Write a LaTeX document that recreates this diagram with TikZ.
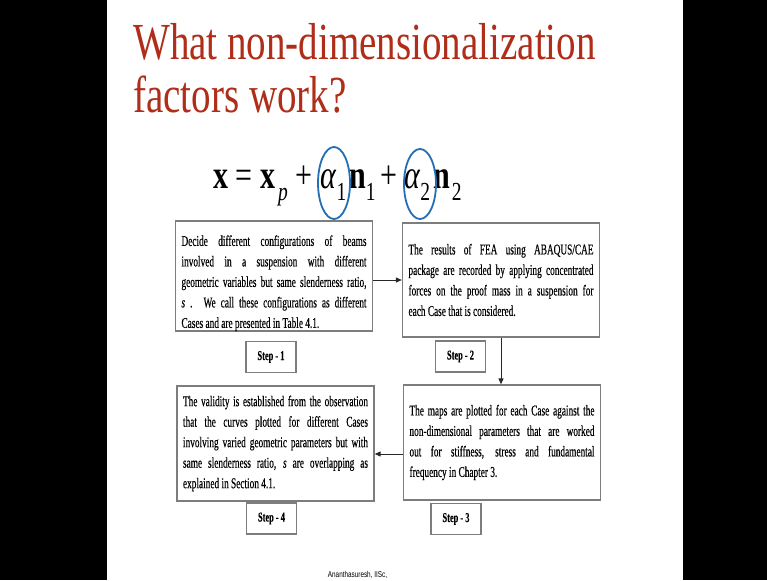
\documentclass[tikz,border=0pt]{standalone}
\usepackage{fontspec}
\setmainfont{Liberation Serif}
\newfontfamily\titlefont[FakeStretch=0.75]{Liberation Serif}
\newfontfamily\boxfont[FakeStretch=0.62,FakeBold=0.3]{Liberation Serif}
\newfontfamily\notefont[FakeStretch=0.75]{Liberation Sans}
\newcommand\eqsub[1]{\raisebox{-0.3em}{\fontsize{26}{26}\selectfont #1}}
\definecolor{slidered}{RGB}{175,45,25}
\definecolor{inkblue}{RGB}{35,110,180}
\definecolor{boxgray}{RGB}{125,125,125}
\definecolor{arrowgray}{RGB}{40,40,40}
\usetikzlibrary{arrows.meta,positioning}

\begin{document}
\begin{tikzpicture}[x=1pt, y=-1pt,
    stepbox/.style={rectangle, draw=boxgray, line width=1.3pt, fill=white, inner sep=0pt,
      minimum width=50pt, minimum height=31pt, font=\boxfont\bfseries\fontsize{13.5}{13.5}\selectfont},
    textbox/.style={rectangle, draw=boxgray, line width=1.3pt, inner xsep=6pt, inner ysep=0pt,
      text width=185pt, align=justify, font=\boxfont\fontsize{15}{20.5}\selectfont},
    flow/.style={draw=arrowgray, line width=1pt, -{Triangle[length=6pt,width=5pt]}},
    inkring/.style={draw=inkblue, line width=1.8pt}
  ]
    \useasboundingbox (0,0) rectangle (767,580);
    \fill[black] (0,0) rectangle (767,580);
    \fill[white] (107,0) rectangle (683,580);

    % title
    \node[anchor=base west, inner sep=0pt, text=slidered, font=\titlefont\fontsize{52}{52}\selectfont]
      (title1) at (133,60) {What non-dimensionalization};
    \node[anchor=base west, inner sep=0pt, text=slidered, font=\titlefont\fontsize{52}{52}\selectfont]
      (title2) at (133,113) {factors work?};

    % equation
    \node[anchor=base west, inner sep=0pt, font=\titlefont\fontsize{40}{40}\selectfont] (eq) at (213,188)
      {{\bfseries x} = {\bfseries x}\hspace{3pt}\eqsub{\itshape p}\hspace{8pt}+\hspace{8pt}%
       {\itshape α}\eqsub{1}\hspace{3pt}{\bfseries n}\eqsub{1}\hspace{5pt}+\hspace{7pt}%
       {\itshape α}\eqsub{2}\hspace{3pt}{\bfseries n}\hspace{2pt}\eqsub{2}};
    \draw[inkring] (334,183) ellipse [x radius=16pt, y radius=36pt];
    \draw[inkring] (420,184) ellipse [x radius=16pt, y radius=35pt];

    % steps
    \node[textbox, minimum height=106pt] (b1) at (274,276) {%
      \rule{0pt}{25pt}Decide different configurations of beams\linebreak
      involved in a suspension with different\linebreak
      geometric variables but same slenderness ratio,\linebreak
      {\itshape s} . We call these configurations as different\linebreak
      Cases and are presented in Table 4.1.};
    \node[textbox, minimum height=114pt] (b2) at (501,280) {%
      The results of FEA using ABAQUS/CAE\linebreak
      package are recorded by applying concentrated\linebreak
      forces on the proof mass in a suspension for\linebreak
      each Case that is considered.};
    \node[textbox, minimum height=115pt] (b3) at (502,442.5) {%
      The maps are plotted for each Case against the\linebreak
      non-dimensional parameters that are worked\linebreak
      out for stiffness, stress and fundamental\linebreak
      frequency in Chapter 3.};
    \node[textbox, minimum height=115pt] (b4) at (275.5,443.5) {%
      The validity is established from the observation\linebreak
      that the curves plotted for different Cases\linebreak
      involving varied geometric parameters but with\linebreak
      same slenderness ratio, {\itshape s} are overlapping as\linebreak
      explained in Section 4.1.};

    \node[stepbox] (s1) at (271,357) {Step - 1};
    \node[stepbox] (s2) at (460.5,356.5) {Step - 2};
    \node[stepbox] (s3) at (456,519) {Step - 3};
    \node[stepbox] (s4) at (271.5,518.5) {Step - 4};

    \draw[flow] (b1.east |- b2.west) -- (b2.west);
    \draw[flow] (b2.south) -- (b2.south |- b3.north);
    \draw[flow] ([yshift=-11.5pt]b3.west) -- ([yshift=-11.5pt]b3.west -| b4.east);

    \node[font=\notefont\fontsize{8.5}{8.5}\selectfont, inner sep=0pt] (credit) at (357.5,575) {Ananthasuresh, IISc,};
  \end{tikzpicture}
\end{document}
